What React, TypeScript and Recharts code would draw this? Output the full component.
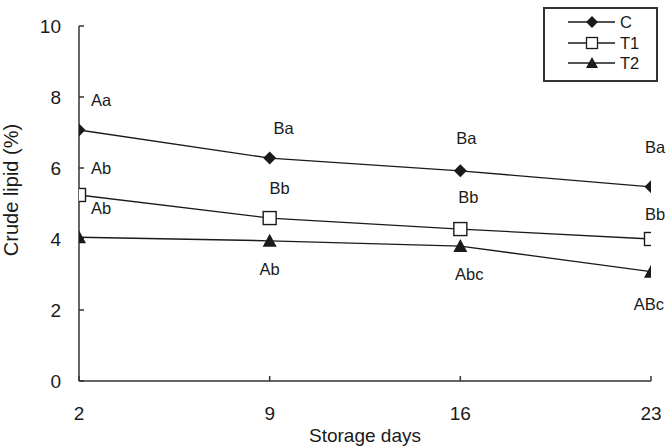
import React from 'react';
import { LineChart, Line, XAxis, YAxis, LabelList } from 'recharts';

const days = [2, 9, 16, 23];
const seriesC = [7.07, 6.28, 5.92, 5.47];
const seriesT1 = [5.24, 4.59, 4.28, 4.0];
const seriesT2 = [4.05, 3.95, 3.8, 3.08];
const labelsC = ['Aa', 'Ba', 'Ba', 'Ba'];
const labelsT1 = ['Ab', 'Bb', 'Bb', 'Bb'];
const labelsT2 = ['Ab', 'Ab', 'Abc', 'ABc'];
const seriesNames = ['C', 'T1', 'T2'];
const yTicks = [0, 2, 4, 6, 8, 10];

// label offsets (dx, dy) relative to each point
const offC = [[22, -30], [14, -30], [6, -33], [4, -40]];
const offT1 = [[22, -27], [10, -30], [8, -32], [4, -25]];
const offT2 = [[22, -29], [0, 28], [9, 28], [-2, 32]];

const data = days.map((d, i) => ({ day: d, C: seriesC[i], T1: seriesT1[i], T2: seriesT2[i] }));

const FONT = '"Liberation Sans", Arial, sans-serif';
const INK = '#1a1a1a';

const Diamond = (p: any) => {
  const { cx, cy } = p;
  if (cx == null || cy == null) return null;
  const s = 6.5;
  return <polygon points={`${cx},${cy - s} ${cx + s},${cy} ${cx},${cy + s} ${cx - s},${cy}`} fill={INK} />;
};
const Square = (p: any) => {
  const { cx, cy } = p;
  if (cx == null || cy == null) return null;
  return <rect x={cx - 6.5} y={cy - 6.5} width={13} height={13} fill="#fff" stroke={INK} strokeWidth={1.4} />;
};
const Triangle = (p: any) => {
  const { cx, cy } = p;
  if (cx == null || cy == null) return null;
  return <polygon points={`${cx},${cy - 7} ${cx + 7},${cy + 6} ${cx - 7},${cy + 6}`} fill={INK} />;
};

const makeLabel = (labels: string[], offs: number[][]) => (p: any) => {
  const { x, y, index } = p;
  if (x == null || y == null || index == null) return null;
  return (
    <text x={x + offs[index][0]} y={y + offs[index][1]} textAnchor="middle" dominantBaseline="central"
      fontFamily={FONT} fontSize={16.5} fill={INK}>
      {labels[index]}
    </text>
  );
};

const LegendBox = () => {
  const icons = ['diamond', 'square', 'triangle'];
  return (
    <div style={{ position: 'absolute', left: 543, top: 7, border: '2px solid #333', width: 115, height: 75, boxSizing: 'border-box', paddingTop: 3, background: '#fff' }}>
      {seriesNames.map((name, i) => (
        <div key={name} style={{ display: 'flex', alignItems: 'center', height: 20.5 }}>
          <svg width={74} height={20}>
            <line x1={23} x2={70} y1={10} y2={10} stroke={INK} strokeWidth={1.3} />
            {icons[i] === 'diamond' && <polygon points="47,4 53,10 47,16 41,10" fill={INK} />}
            {icons[i] === 'square' && <rect x={41.5} y={4.5} width={11} height={11} fill="#fff" stroke={INK} strokeWidth={1.3} />}
            {icons[i] === 'triangle' && <polygon points="47,4 53,15 41,15" fill={INK} />}
          </svg>
          <span style={{ fontFamily: FONT, fontSize: 16.5, color: INK, marginLeft: 1, lineHeight: '20px' }}>{name}</span>
        </div>
      ))}
    </div>
  );
};

export default function App() {
  return (
    <div style={{ position: 'absolute', left: 0, top: 0, width: 671, height: 447 }}>
      <LineChart width={671} height={447} data={data} margin={{ top: 26, right: 20, bottom: 36, left: 5 }}>
        <XAxis
          dataKey="day"
          type="number"
          domain={[2, 23]}
          ticks={days}
          allowDataOverflow
          height={30}
          stroke="#333"
          strokeWidth={1.5}
          tickSize={-5}
          tickMargin={31}
          tick={{ fontFamily: FONT, fontSize: 19, fill: INK }}
          label={{
            content: (p: any) => {
              const vb = p.viewBox || {};
              return (
                <text x={vb.x + vb.width / 2} y={442} textAnchor="middle" fontFamily={FONT} fontSize={19} fill={INK}>
                  Storage days
                </text>
              );
            },
          }}
        />
        <YAxis
          type="number"
          domain={[0, 10]}
          ticks={yTicks}
          width={74}
          stroke="#333"
          strokeWidth={1.5}
          tickSize={-5}
          tickMargin={23}
          tick={{ fontFamily: FONT, fontSize: 19, fill: INK }}
          label={{
            content: () => {
              const cx = 11;
              const cy = 190;
              return (
                <text x={cx} y={cy} transform={`rotate(-90, ${cx}, ${cy})`} textAnchor="middle" dominantBaseline="central"
                  fontFamily={FONT} fontSize={20} fill={INK}>
                  Crude lipid (%)
                </text>
              );
            },
          }}
        />
        <Line dataKey="C" stroke={INK} strokeWidth={1.3} dot={<Diamond />} activeDot={false} isAnimationActive={false}>
          <LabelList dataKey="C" content={makeLabel(labelsC, offC)} />
        </Line>
        <Line dataKey="T1" stroke={INK} strokeWidth={1.3} dot={<Square />} activeDot={false} isAnimationActive={false}>
          <LabelList dataKey="T1" content={makeLabel(labelsT1, offT1)} />
        </Line>
        <Line dataKey="T2" stroke={INK} strokeWidth={1.3} dot={<Triangle />} activeDot={false} isAnimationActive={false}>
          <LabelList dataKey="T2" content={makeLabel(labelsT2, offT2)} />
        </Line>
      </LineChart>
      <LegendBox />
    </div>
  );
}
